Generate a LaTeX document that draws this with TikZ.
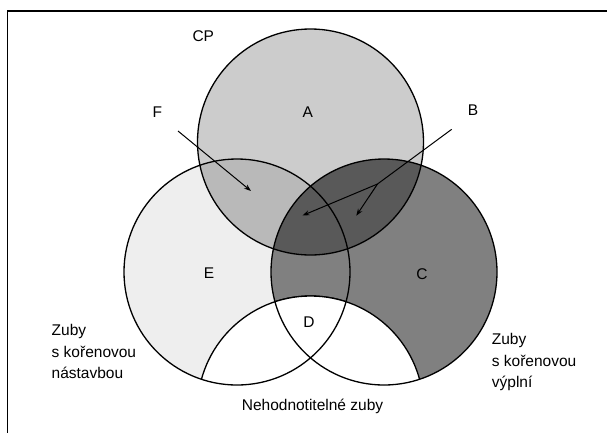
\documentclass[tikz,border=0pt]{standalone}
\usepackage{fontspec}
\setmainfont{Liberation Sans}
\usetikzlibrary{arrows.meta}
\definecolor{fA}{gray}{0.80}
\definecolor{fAE}{gray}{0.725}
\definecolor{fE}{gray}{0.935}
\definecolor{fC}{gray}{0.50}
\definecolor{fAC}{gray}{0.35}
\tikzset{
  ring/.style={draw=black, line width=1.3pt},
  lbl/.style={inner sep=0pt, font=\fontsize{15.5}{18}\selectfont},
  txt/.style={inner sep=0pt, anchor=base west, font=\fontsize{15.5}{18}\selectfont},
  arr/.style={line width=1pt, -{Stealth[length=7pt,width=5pt]}},
}
\begin{document}
\begin{tikzpicture}[x=1pt,y=-1pt]
\useasboundingbox (0,0) rectangle (607,432);
\fill[white] (0,0) rectangle (607,432);
\coordinate (cA) at (310.5,142);
\coordinate (cE) at (237,272);
\coordinate (cC) at (384,272);
\coordinate (cN) at (310.5,409);
% fills
\fill[fE] (cE) circle (113pt);
\fill[fC] (cC) circle (113pt);
\fill[fA] (cA) circle (113pt);
\begin{scope}
  \clip (cA) circle (113pt);
  \fill[fAE] (cE) circle (113pt);
  \fill[fAC] (cC) circle (113pt);
\end{scope}
\begin{scope}
  \clip (cE) circle (113pt);
  \fill[white] (cN) circle (113pt);
  \draw[ring] (cN) circle (113pt);
\end{scope}
\begin{scope}
  \clip (cC) circle (113pt);
  \fill[white] (cN) circle (113pt);
  \draw[ring] (cN) circle (113pt);
\end{scope}
% outlines
\draw[ring] (cA) circle (113pt);
\draw[ring] (cE) circle (113pt);
\draw[ring] (cC) circle (113pt);
% frame
\draw[line width=1.6pt] (7.3,440) -- (7.3,11) -- (610,11);
% labels
\node[lbl] (CP) at (203.3,36) {CP};
\node[lbl] (A) at (307.7,111.7) {A};
\node[lbl] (F) at (157.3,111.7) {F};
\node[lbl] (B) at (473,110) {B};
\node[lbl] (E) at (209,273) {E};
\node[lbl] (C) at (422,274) {C};
\node[lbl] (D) at (309,322) {D};
\node[lbl] (N) at (312.5,406.7) {Nehodnotitelné zuby};
\node[txt] (L1) at (51.5,335.5) {Zuby};
\node[txt] (L2) at (51.5,357) {s kořenovou};
\node[txt] (L3) at (51.5,378.5) {nástavbou};
\node[txt] (R1) at (491.7,344.5) {Zuby};
\node[txt] (R2) at (491.7,366) {s kořenovou};
\node[txt] (R3) at (491.7,387.5) {výplní};
% arrows
\coordinate (fs) at (178,131);
\coordinate (fe) at (251,191);
\coordinate (bs) at (451.7,129.3);
\coordinate (bm) at (377.5,184);
\coordinate (be1) at (302.5,215.5);
\coordinate (be2) at (356.3,215.7);
\draw[arr] (fs) -- (fe);
\draw[line width=1pt] (bs) -- (bm);
\draw[arr] (bm) -- (be1);
\draw[arr] (bm) -- (be2);
\end{tikzpicture}
\end{document}
